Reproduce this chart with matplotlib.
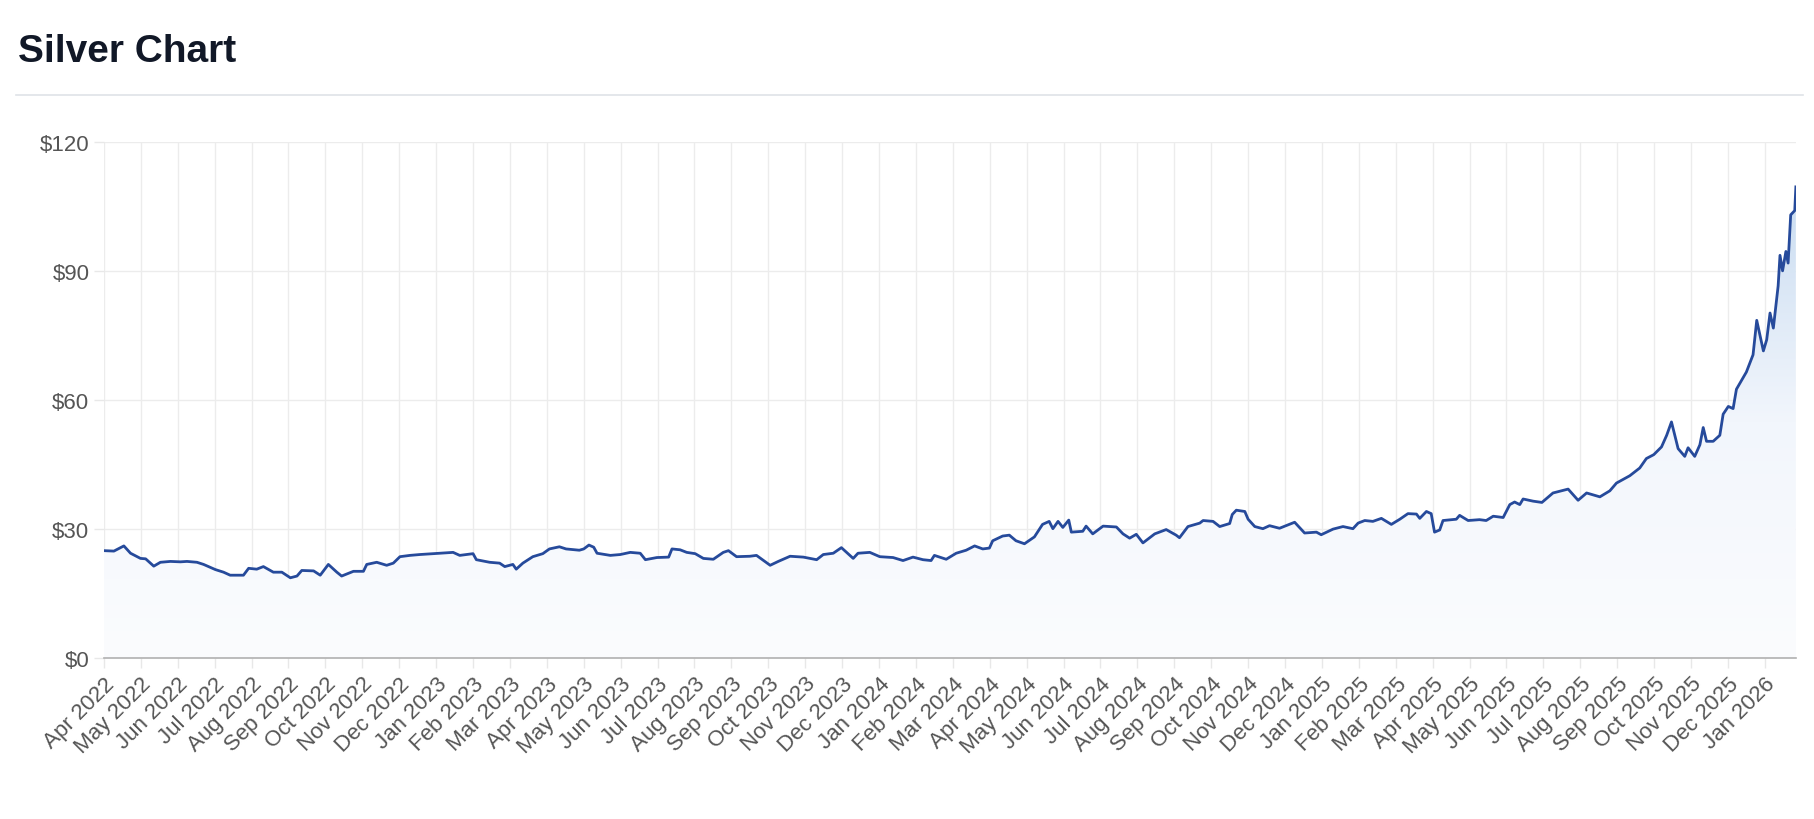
import matplotlib
matplotlib.use("Agg")
import matplotlib.pyplot as plt
import numpy as np
from matplotlib.colors import LinearSegmentedColormap
from matplotlib.patches import Polygon

# month offsets since Apr 2022 and silver price (USD)
months = [
    0.0, 0.27, 0.54, 0.72, 0.99, 1.13, 1.35, 1.53, 1.80, 2.07, 2.25, 2.52, 2.70, 3.02, 3.24,
    3.42, 3.78, 3.92, 4.14, 4.32, 4.59, 4.82, 5.05, 5.23, 5.36, 5.68, 5.86, 6.08, 6.31, 6.44,
    6.76, 7.03, 7.12, 7.39, 7.66, 7.84, 8.02, 8.29, 8.56, 8.92, 9.46, 9.64, 10.0, 10.09, 10.45,
    10.72, 10.86, 11.08, 11.17, 11.35, 11.62, 11.89, 12.07, 12.34, 12.52, 12.88,
    13.0, 13.14, 13.27, 13.36, 13.72, 13.99, 14.26, 14.53, 14.67, 14.98, 15.30, 15.39, 15.61,
    15.79, 16.02, 16.24, 16.51, 16.78, 16.92, 17.14, 17.50, 17.68, 18.05, 18.27, 18.59, 18.95,
    19.31, 19.49, 19.76, 19.98, 20.30, 20.43, 20.75, 21.02, 21.38, 21.65, 21.92, 22.19, 22.41,
    22.50, 22.82, 23.09, 23.36, 23.59, 23.81, 23.99, 24.08, 24.35, 24.53, 24.71, 24.94, 25.21,
    25.43, 25.61,
    25.71, 25.85, 25.98, 26.14, 26.21, 26.52, 26.61, 26.79, 27.07, 27.43, 27.61, 27.79, 27.97,
    28.15, 28.47, 28.78, 29.05, 29.14, 29.37, 29.69, 29.78, 30.05, 30.23, 30.50, 30.57, 30.68,
    30.91, 31.00, 31.18, 31.40, 31.58, 31.85, 32.26, 32.53, 32.85, 32.98, 33.30, 33.57, 33.84,
    33.98, 34.16, 34.38, 34.61, 34.88, 35.11, 35.33, 35.56, 35.65, 35.83, 35.96, 36.05, 36.19,
    36.28, 36.64, 36.73, 36.96, 37.27, 37.45, 37.64, 37.91, 38.09, 38.22, 38.36,
    38.45, 38.72, 38.96, 39.26, 39.67, 39.94, 40.17, 40.53, 40.80, 40.98, 41.34, 41.61, 41.79,
    41.99, 42.20, 42.34, 42.47, 42.56, 42.65, 42.83, 42.92, 43.10, 43.24, 43.33, 43.42, 43.60,
    43.78, 43.87, 44.01, 44.14, 44.23, 44.50, 44.68, 44.78, 44.87, 44.96, 45.05, 45.14, 45.23,
    45.36, 45.41, 45.48, 45.57, 45.63, 45.70, 45.81, 45.84,
]
prices = [
    25.0, 24.9, 26.1, 24.4, 23.2, 23.1, 21.4, 22.3, 22.5, 22.4, 22.5, 22.3, 21.8, 20.6, 20.0,
    19.3, 19.3, 20.9, 20.7, 21.3, 20.0, 20.0, 18.7, 19.1, 20.4, 20.3, 19.3, 21.8, 20.0, 19.1,
    20.2, 20.2, 21.8, 22.3, 21.6, 22.1, 23.6, 23.9, 24.1, 24.3, 24.6, 23.9, 24.3, 22.9, 22.3,
    22.1, 21.3, 21.8, 20.7, 22.1, 23.6, 24.3, 25.4, 25.9, 25.4, 25.1,
    25.4, 26.3, 25.8, 24.4, 23.9, 24.1, 24.6, 24.4, 22.9, 23.4, 23.5, 25.4, 25.2,
    24.6, 24.3, 23.2, 23.0, 24.6, 25.0, 23.6, 23.7, 23.9, 21.6, 22.5, 23.7, 23.5,
    22.9, 24.1, 24.4, 25.7, 23.2, 24.4, 24.6, 23.6, 23.4, 22.7, 23.5, 22.9, 22.7,
    23.9, 23.0, 24.4, 25.1, 26.1, 25.4, 25.6, 27.3, 28.4, 28.6, 27.3, 26.6, 28.2,
    31.1, 31.8,
    30.1, 31.8, 30.4, 32.1, 29.3, 29.5, 30.7, 28.9, 30.7, 30.5, 28.9, 27.9, 28.8,
    26.8, 28.9, 29.9, 28.6, 28.0, 30.6, 31.4, 32.0, 31.8, 30.6, 31.3, 33.4, 34.4,
    34.1, 32.3, 30.6, 30.1, 30.8, 30.2, 31.6, 29.1, 29.3, 28.7, 30.0, 30.6, 30.1,
    31.4, 32.0, 31.8, 32.5, 31.1, 32.3, 33.6, 33.5, 32.5, 34.1, 33.6, 29.3, 29.8,
    32.0, 32.3, 33.2, 32.0, 32.2, 32.0, 33.0, 32.7, 35.7, 36.3, 35.7,
    37.0, 36.5, 36.2, 38.4, 39.3, 36.7, 38.4, 37.5, 38.9, 40.7, 42.4, 44.2, 46.4,
    47.3, 49.1, 51.8, 54.9, 51.8, 48.7, 46.9, 48.9, 46.9, 49.6, 53.6, 50.4, 50.4,
    51.8, 56.7, 58.5, 58.0, 62.5, 66.5, 70.5, 78.5, 75.0, 71.4, 74.0, 80.2, 76.7,
    86.5, 93.6, 90.0, 94.5, 91.8, 103.0, 104.0, 109.5,
]

month_names = ["Jan", "Feb", "Mar", "Apr", "May", "Jun", "Jul", "Aug", "Sep", "Oct", "Nov", "Dec"]
tick_labels = [f"{month_names[(3 + i) % 12]} {2022 + (3 + i) // 12}" for i in range(46)]
y_ticks = [0, 30, 60, 90, 120]

plt.rcParams["font.family"] = ["Liberation Sans", "DejaVu Sans"]

fig = plt.figure(figsize=(18.14, 8.2), dpi=100)
fig.text(0.010, 0.937, "Silver Chart", fontsize=28, fontweight="bold", color="#111827",
         va="center", ha="left")
fig.add_artist(plt.Line2D([0.009, 0.994], [0.883, 0.883], color="#dfe3e8", lw=1.2))

ax = fig.add_axes([0.0573, 0.196, 0.9327, 0.630])
x = np.array(months)
y = np.array(prices)
x_max = x[-1]

# gradient fill under the line
cmap = LinearSegmentedColormap.from_list("fill", ["#fbfcfe", "#f2f6fc", "#c9dcf1"])
grad = np.linspace(0, 1, 256).reshape(-1, 1)
img = ax.imshow(grad, cmap=cmap, aspect="auto", origin="lower",
                extent=[0, x_max, 0, y.max()], zorder=1)
poly = Polygon(np.column_stack([np.r_[x[0], x, x[-1]], np.r_[0, y, 0]]),
               closed=True, transform=ax.transData, facecolor="none", edgecolor="none")
ax.add_patch(poly)
img.set_clip_path(poly)

ax.plot(x, y, color="#264a9b", lw=2.0, zorder=3)

ax.set_xlim(0, x_max)
ax.set_ylim(0, 120)
ax.set_xticks(range(46))
ax.set_xticklabels(tick_labels, rotation=45, ha="right", rotation_mode="anchor",
                   fontsize=16, color="#555555")
ax.set_yticks(y_ticks)
ax.set_yticklabels([f"${v}" for v in y_ticks], fontsize=16, color="#555555")
ax.tick_params(axis="both", length=7, color="#e8e8e8", width=1)
ax.grid(True, color="#ececec", lw=1)
ax.set_axisbelow(True)
for side in ["top", "right", "left"]:
    ax.spines[side].set_visible(False)
ax.spines["bottom"].set_color("#b0b0b0")
ax.spines["bottom"].set_linewidth(1.2)

fig.savefig("out.png", dpi=100, facecolor="white")
